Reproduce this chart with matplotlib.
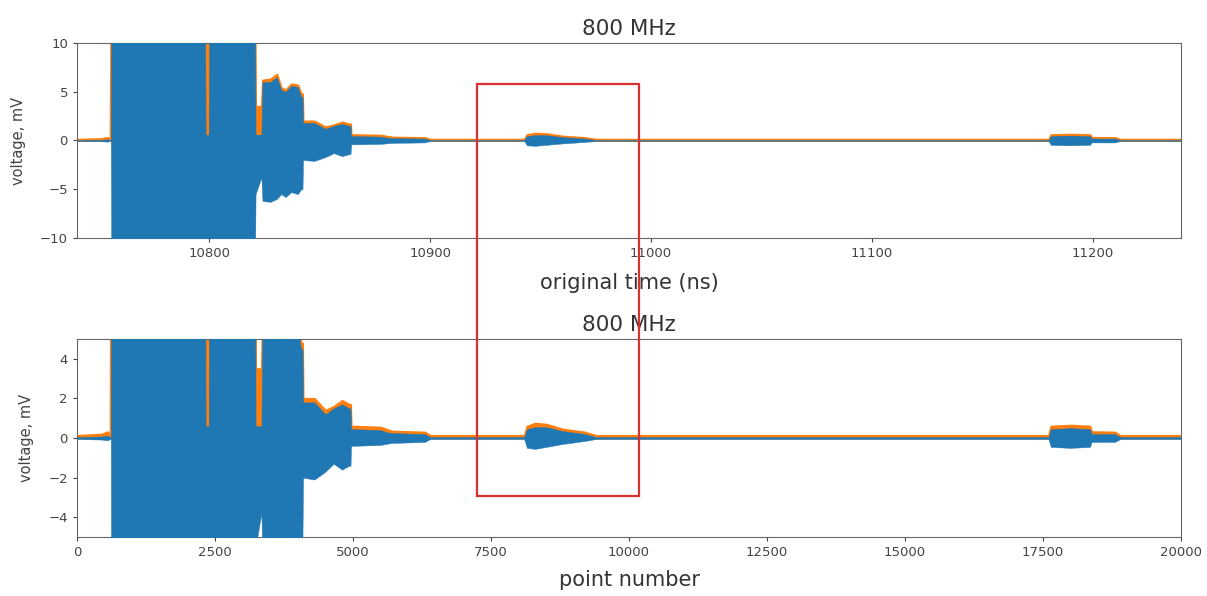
import numpy as np
import matplotlib
matplotlib.use("Agg")
import matplotlib.pyplot as plt
from matplotlib.patches import Rectangle

# ---- data, indexed by sample / point number ----
point_n = [0, 450, 550, 600, 612, 620, 2320, 2330, 2385, 2395, 3225, 3235, 3340, 3360,
           3500, 3620, 3700, 3780, 3880, 4000, 4060, 4085, 4095, 4300, 4500, 4650, 4800,
           4930, 4955, 4965, 5500, 5600, 5700, 6300, 6400, 8100, 8150, 8300, 8500, 8800,
           9200, 9400, 17600, 17640, 18000, 18350, 18380, 18800, 18900, 20000]
blue_upper = [0.05, 0.08, 0.12, 0.05, 0.05, 12, 12, 0.6, 0.6, 12, 12, 0.6, 0.6, 6.0,
              6.0, 6.5, 5.2, 5.0, 5.6, 5.5, 4.5, 4.5, 1.8, 1.8, 1.2, 1.5, 1.7,
              1.5, 1.5, 0.45, 0.40, 0.30, 0.25, 0.20, 0.05, 0.05, 0.45, 0.55, 0.55, 0.35,
              0.20, 0.05, 0.05, 0.45, 0.50, 0.45, 0.20, 0.20, 0.05, 0.05]
blue_lower = [-0.05, -0.08, -0.12, -0.05, -0.05, -12, -12, -12, -12, -12, -12, -5.5, -3.8, -6.2,
              -6.3, -6.0, -5.5, -5.8, -5.3, -5.5, -5.0, -5.0, -2.0, -2.1, -1.7, -1.3, -1.6,
              -1.4, -1.4, -0.40, -0.35, -0.30, -0.25, -0.20, -0.05, -0.05, -0.50, -0.55, -0.45, -0.30,
              -0.15, -0.05, -0.05, -0.45, -0.50, -0.45, -0.20, -0.20, -0.05, -0.05]
orange_env = [0.13, 0.20, 0.32, 0.18, 12, 12, 12, 12, 12, 12, 12, 3.5, 3.5, 6.2,
              6.3, 6.8, 5.4, 5.2, 5.8, 5.7, 4.8, 4.8, 2.0, 2.0, 1.4, 1.6, 1.9,
              1.7, 1.7, 0.60, 0.55, 0.45, 0.35, 0.30, 0.13, 0.13, 0.60, 0.75, 0.70, 0.45,
              0.30, 0.13, 0.13, 0.60, 0.65, 0.60, 0.32, 0.30, 0.13, 0.13]

t_start = 10740.0   # ns at point 0
t_step = 0.025      # ns per point

top_xticks = [10800, 10900, 11000, 11100, 11200]
top_yticks = [-10, -5, 0, 5, 10]
bot_xticks = [0, 2500, 5000, 7500, 10000, 12500, 15000, 17500, 20000]
bot_yticks = [-4, -2, 0, 2, 4]
title_text = "800 MHz"

# ---- figure ----
n = np.array(point_n, dtype=float)
t = t_start + n * t_step

fig = plt.figure(figsize=(12.07, 5.96), dpi=100)
ax1 = fig.add_axes([0.0638, 0.6007, 0.9147, 0.3272])
ax2 = fig.add_axes([0.0638, 0.0990, 0.9147, 0.3322])

blue = "#1f77b4"
orange = "#ff7f0e"

for ax, x in ((ax1, t), (ax2, n)):
    ax.fill_between(x, 0, orange_env, color=orange, lw=1.4, edgecolor=orange, zorder=2)
    ax.fill_between(x, blue_lower, blue_upper, color=blue, lw=0.3, edgecolor=blue, zorder=3)
    ax.set_title(title_text, fontsize=15.5, color="#333333", pad=6)
    ax.set_ylabel("voltage, mV", fontsize=10.5, color="#444444", labelpad=10)
    ax.tick_params(labelsize=9.5, colors="#444444", length=3)
    for s in ax.spines.values():
        s.set_color("#666666")

ax1.set_xlim(t_start, t_start + 20000 * t_step)
ax1.set_ylim(-10, 10)
ax1.set_xticks(top_xticks)
ax1.set_yticks(top_yticks)
ax1.set_xlabel("original time (ns)", fontsize=15, color="#333333", labelpad=9)

ax2.set_xlim(0, 20000)
ax2.set_ylim(-5, 5)
ax2.set_xticks(bot_xticks)
ax2.set_yticks(bot_yticks)
ax2.set_xlabel("point number", fontsize=15, color="#333333", labelpad=8)

fig.add_artist(Rectangle((0.3952, 0.1678), 0.1342, 0.6913, transform=fig.transFigure,
                         fill=False, edgecolor="#d93030", lw=1.6, zorder=10))

fig.savefig("out.png", dpi=100)
